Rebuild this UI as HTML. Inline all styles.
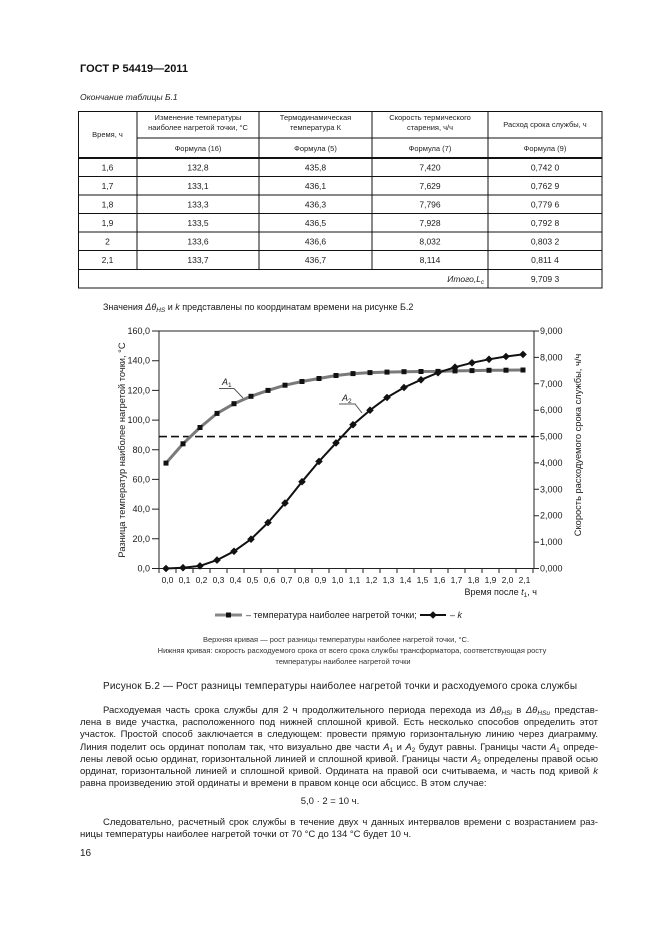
<!DOCTYPE html>
<html><head><meta charset="utf-8">
<style>
html,body{margin:0;padding:0;background:#fff;}
body{width:661px;height:936px;position:relative;overflow:hidden;font-family:"Liberation Sans","DejaVu Sans",sans-serif;color:#1a1a1a;}
svg{position:absolute;left:0;top:0;}
.p{position:absolute;left:80px;width:518px;font-size:9.5px;line-height:12px;white-space:nowrap;text-align:justify;text-align-last:justify;}
.p.last{text-align-last:left;}
.i{font-style:italic;}
sub{font-size:6.5px;vertical-align:-2px;line-height:0;}
</style></head><body>
<svg width="661" height="936" viewBox="0 0 661 936" font-family="Liberation Sans, DejaVu Sans, sans-serif">
<!-- header -->
<text x="80" y="72" font-size="11" font-weight="bold" fill="#111">ГОСТ Р 54419—2011</text>
<text x="80" y="100" font-size="8.5" font-style="italic" fill="#222">Окончание таблицы Б.1</text>

<!-- table lines -->
<g stroke="#111" stroke-width="1" fill="none">
<rect x="78.5" y="111.5" width="523.5" height="176.5"/>
<line x1="137" y1="111" x2="137" y2="269.5"/>
<line x1="259" y1="111" x2="259" y2="269.5"/>
<line x1="372" y1="111" x2="372" y2="269.5"/>
<line x1="488" y1="111" x2="488" y2="288"/>
<line x1="137" y1="138" x2="602" y2="138"/>
<line x1="78" y1="158" x2="602" y2="158" stroke-width="2"/>
<line x1="78" y1="176.5" x2="602" y2="176.5"/>
<line x1="78" y1="195" x2="602" y2="195"/>
<line x1="78" y1="213.5" x2="602" y2="213.5"/>
<line x1="78" y1="232" x2="602" y2="232"/>
<line x1="78" y1="250.5" x2="602" y2="250.5"/>
<line x1="78" y1="269.5" x2="602" y2="269.5"/>
</g>
<g font-size="7.5" fill="#222" text-anchor="middle">
<text x="107.5" y="137">Время, ч</text>
<text x="198" y="120">Изменение температуры</text>
<text x="198" y="130">наиболее нагретой точки, °С</text>
<text x="315.5" y="120">Термодинамическая</text>
<text x="315.5" y="130">температура  К</text>
<text x="430" y="120">Скорость термического</text>
<text x="430" y="130">старения, ч/ч</text>
<text x="545" y="127">Расход срока службы, ч</text>
<text x="198" y="151">Формула (16)</text>
<text x="315.5" y="151">Формула (5)</text>
<text x="430" y="151">Формула (7)</text>
<text x="545" y="151">Формула (9)</text>
</g>
<g font-size="8.5" fill="#1a1a1a" text-anchor="middle">
<text x="107.5" y="170.5">1,6</text><text x="198" y="170.5">132,8</text><text x="315.5" y="170.5">435,8</text><text x="430" y="170.5">7,420</text><text x="545" y="170.5">0,742 0</text>
<text x="107.5" y="189">1,7</text><text x="198" y="189">133,1</text><text x="315.5" y="189">436,1</text><text x="430" y="189">7,629</text><text x="545" y="189">0,762 9</text>
<text x="107.5" y="207.5">1,8</text><text x="198" y="207.5">133,3</text><text x="315.5" y="207.5">436,3</text><text x="430" y="207.5">7,796</text><text x="545" y="207.5">0,779 6</text>
<text x="107.5" y="226">1,9</text><text x="198" y="226">133,5</text><text x="315.5" y="226">436,5</text><text x="430" y="226">7,928</text><text x="545" y="226">0,792 8</text>
<text x="107.5" y="244.5">2</text><text x="198" y="244.5">133,6</text><text x="315.5" y="244.5">436,6</text><text x="430" y="244.5">8,032</text><text x="545" y="244.5">0,803 2</text>
<text x="107.5" y="263">2,1</text><text x="198" y="263">133,7</text><text x="315.5" y="263">436,7</text><text x="430" y="263">8,114</text><text x="545" y="263">0,811 4</text>
<text x="545" y="282">9,709 3</text>
</g>
<text x="484" y="282" font-size="8.5" font-style="italic" fill="#1a1a1a" text-anchor="end">Итого,L<tspan font-size="6" dy="2">c</tspan></text>

<text x="103" y="310" font-size="9" fill="#1a1a1a">Значения <tspan font-style="italic">Δθ</tspan><tspan font-size="6.5" font-style="italic" dy="2">HS</tspan><tspan dy="-2"> и </tspan><tspan font-style="italic">k</tspan> представлены по координатам времени на рисунке Б.2</text>

<!-- chart frame -->
<g stroke="#222" stroke-width="1" fill="none">
<line x1="159" y1="331" x2="534" y2="331"/>
<line x1="159" y1="331" x2="159" y2="569"/>
<line x1="534" y1="331" x2="534" y2="569"/>
<line x1="159" y1="568.5" x2="534" y2="568.5"/>
<path d="M152 568.5H159M152 538.8H159M152 509.1H159M152 479.4H159M152 449.75H159M152 420.1H159M152 390.4H159M152 360.7H159M152 331H159"/>
<path d="M534 568.5H539M534 542.1H539M534 515.7H539M534 489.3H539M534 462.9H539M534 436.6H539M534 410.2H539M534 383.8H539M534 357.4H539M534 331H539"/>
<path d="M159 568.5V573M176 568.5V573M193 568.5V573M210 568.5V573M227 568.5V573M244 568.5V573M261 568.5V573M278 568.5V573M295 568.5V573M312 568.5V573M329 568.5V573M346 568.5V573M363 568.5V573M380 568.5V573M397 568.5V573M414 568.5V573M431 568.5V573M448 568.5V573M465 568.5V573M482 568.5V573M499 568.5V573M516 568.5V573M533 568.5V573"/>
</g>
<g font-size="9" fill="#1a1a1a" text-anchor="end">
<text x="150" y="571.5">0,0</text>
<text x="150" y="541.8">20,0</text>
<text x="150" y="512.1">40,0</text>
<text x="150" y="482.4">60,0</text>
<text x="150" y="452.8">80,0</text>
<text x="150" y="423.1">100,0</text>
<text x="150" y="393.4">120,0</text>
<text x="150" y="363.7">140,0</text>
<text x="150" y="334">160,0</text>
</g>
<g font-size="9" fill="#1a1a1a">
<text x="540" y="571.5">0,000</text>
<text x="540" y="545.1">1,000</text>
<text x="540" y="518.7">2,000</text>
<text x="540" y="492.3">3,000</text>
<text x="540" y="465.9">4,000</text>
<text x="540" y="439.6">5,000</text>
<text x="540" y="413.2">6,000</text>
<text x="540" y="386.8">7,000</text>
<text x="540" y="360.4">8,000</text>
<text x="540" y="334">9,000</text>
</g>
<g font-size="8.5" fill="#1a1a1a" text-anchor="middle">
<text x="167.5" y="583">0,0</text><text x="184.5" y="583">0,1</text><text x="201.5" y="583">0,2</text><text x="218.5" y="583">0,3</text><text x="235.5" y="583">0,4</text><text x="252.5" y="583">0,5</text><text x="269.5" y="583">0,6</text><text x="286.5" y="583">0,7</text><text x="303.5" y="583">0,8</text><text x="320.5" y="583">0,9</text><text x="337.5" y="583">1,0</text><text x="354.5" y="583">1,1</text><text x="371.5" y="583">1,2</text><text x="388.5" y="583">1,3</text><text x="405.5" y="583">1,4</text><text x="422.5" y="583">1,5</text><text x="439.5" y="583">1,6</text><text x="456.5" y="583">1,7</text><text x="473.5" y="583">1,8</text><text x="490.5" y="583">1,9</text><text x="507.5" y="583">2,0</text><text x="524.5" y="583">2,1</text>
</g>
<text x="537" y="595" font-size="9" fill="#1a1a1a" text-anchor="end">Время после <tspan font-style="italic">t</tspan><tspan font-size="6.5" dy="2">1</tspan><tspan dy="-2">, ч</tspan></text>
<text transform="translate(125,450) rotate(-90)" font-size="9.3" fill="#1a1a1a" text-anchor="middle">Разница температур наиболее нагретой точки, °С</text>
<text transform="translate(581,445) rotate(-90)" font-size="9.3" fill="#1a1a1a" text-anchor="middle">Скорость расходуемого срока службы, ч/ч</text>

<!-- dashed -->
<line x1="159" y1="436.6" x2="534" y2="436.6" stroke="#111" stroke-width="1.6" stroke-dasharray="8,4"/>

<!-- temperature curve -->
<polyline fill="none" stroke="#7a7a7a" stroke-width="3" stroke-linejoin="round" points="166,463.1 183,443.8 200,427.5 217,413.4 234,403.7 251,396.3 268,390.4 285,385.2 302,381.5 319,378.5 336,375.5 353,373.6 370,372.6 387,372.1 404,371.7 421,371.5 438,371.4 455,370.9 472,370.6 489,370.3 506,370.2 523,370.0"/>
<g fill="#111">
<rect x="163.5" y="460.6" width="5" height="5"/><rect x="180.5" y="441.3" width="5" height="5"/><rect x="197.5" y="425" width="5" height="5"/><rect x="214.5" y="410.9" width="5" height="5"/><rect x="231.5" y="401.2" width="5" height="5"/><rect x="248.5" y="393.8" width="5" height="5"/><rect x="265.5" y="387.9" width="5" height="5"/><rect x="282.5" y="382.7" width="5" height="5"/><rect x="299.5" y="379" width="5" height="5"/><rect x="316.5" y="376" width="5" height="5"/><rect x="333.5" y="373" width="5" height="5"/><rect x="350.5" y="371.1" width="5" height="5"/><rect x="367.5" y="370.1" width="5" height="5"/><rect x="384.5" y="369.6" width="5" height="5"/><rect x="401.5" y="369.2" width="5" height="5"/><rect x="418.5" y="369" width="5" height="5"/><rect x="435.5" y="368.9" width="5" height="5"/><rect x="452.5" y="368.4" width="5" height="5"/><rect x="469.5" y="368.1" width="5" height="5"/><rect x="486.5" y="367.8" width="5" height="5"/><rect x="503.5" y="367.7" width="5" height="5"/><rect x="520.5" y="367.5" width="5" height="5"/>
</g>

<!-- k curve -->
<polyline fill="none" stroke="#111" stroke-width="2" stroke-linejoin="round" points="166,568.5 183,567.7 200,565.9 217,560.1 234,551.3 251,539.2 268,522.6 285,503.1 302,481.7 319,461.4 336,442.9 353,424.7 370,410.2 387,397.5 404,387.5 421,379.8 438,372.7 455,367.2 472,362.8 489,359.3 506,356.5 523,354.4"/>
<g fill="#111">
<path d="M166 564.7L169.8 568.5L166 572.3L162.2 568.5Z"/>
<path d="M183 563.9L186.8 567.7L183 571.5L179.2 567.7Z"/>
<path d="M200 562.1L203.8 565.9L200 569.7L196.2 565.9Z"/>
<path d="M217 556.3L220.8 560.1L217 563.9L213.2 560.1Z"/>
<path d="M234 547.5L237.8 551.3L234 555.1L230.2 551.3Z"/>
<path d="M251 535.4L254.8 539.2L251 543L247.2 539.2Z"/>
<path d="M268 518.8L271.8 522.6L268 526.4L264.2 522.6Z"/>
<path d="M285 499.3L288.8 503.1L285 506.9L281.2 503.1Z"/>
<path d="M302 477.9L305.8 481.7L302 485.5L298.2 481.7Z"/>
<path d="M319 457.6L322.8 461.4L319 465.2L315.2 461.4Z"/>
<path d="M336 439.1L339.8 442.9L336 446.7L332.2 442.9Z"/>
<path d="M353 420.9L356.8 424.7L353 428.5L349.2 424.7Z"/>
<path d="M370 406.4L373.8 410.2L370 414L366.2 410.2Z"/>
<path d="M387 393.7L390.8 397.5L387 401.3L383.2 397.5Z"/>
<path d="M404 383.7L407.8 387.5L404 391.3L400.2 387.5Z"/>
<path d="M421 376L424.8 379.8L421 383.6L417.2 379.8Z"/>
<path d="M438 368.9L441.8 372.7L438 376.5L434.2 372.7Z"/>
<path d="M455 363.4L458.8 367.2L455 371L451.2 367.2Z"/>
<path d="M472 359L475.8 362.8L472 366.6L468.2 362.8Z"/>
<path d="M489 355.5L492.8 359.3L489 363.1L485.2 359.3Z"/>
<path d="M506 352.7L509.8 356.5L506 360.3L502.2 356.5Z"/>
<path d="M523 350.6L526.8 354.4L523 358.2L519.2 354.4Z"/>
</g>

<!-- A1, A2 labels -->
<text x="222" y="385" font-size="9" font-style="italic" fill="#1a1a1a">A<tspan font-size="6.5" dy="2" font-style="normal">1</tspan></text>
<polyline fill="none" stroke="#555" stroke-width="1" points="219,388.5 234,388.5 243,398"/>
<text x="342" y="401" font-size="9" font-style="italic" fill="#1a1a1a">A<tspan font-size="6.5" dy="2" font-style="normal">2</tspan></text>
<polyline fill="none" stroke="#555" stroke-width="1" points="339,404 355,404 362,413"/>

<!-- legend -->
<line x1="215" y1="615" x2="242" y2="615" stroke="#888" stroke-width="3"/>
<rect x="226" y="612.5" width="5" height="5" fill="#111"/>
<text x="246" y="618" font-size="9" fill="#1a1a1a">– температура наиболее нагретой точки;</text>
<line x1="420" y1="615" x2="446" y2="615" stroke="#111" stroke-width="2"/>
<path d="M433 611.2L436.8 615L433 618.8L429.2 615Z" fill="#111"/>
<text x="450" y="618" font-size="9" fill="#1a1a1a">– <tspan font-style="italic">k</tspan></text>

<!-- captions -->
<g font-size="7.5" fill="#333" text-anchor="middle">
<text x="336" y="642">Верхняя кривая —  рост разницы температуры наиболее нагретой точки, °С.</text>
<text x="352" y="653">Нижняя кривая: скорость расходуемого срока от всего срока службы трансформатора, соответствующая росту</text>
<text x="343" y="664">температуры наиболее нагретой точки</text>
</g>
<text x="340" y="689" font-size="10" fill="#1a1a1a" text-anchor="middle" textLength="474" lengthAdjust="spacing">Рисунок Б.2 — Рост разницы температуры наиболее нагретой точки и расходуемого срока службы</text>
<text x="330" y="804" font-size="9.5" fill="#1a1a1a" text-anchor="middle">5,0 · 2 = 10 ч.</text>
<text x="80" y="856" font-size="10" fill="#1a1a1a">16</text>
</svg>

<div class="p" style="top:705px;"><span style="display:inline-block;width:23px"></span>Расходуемая часть срока службы для 2 ч продолжительного периода перехода из <span class="i">Δθ<sub>HSi</sub></span> в <span class="i">Δθ<sub>HSu</sub></span> представ-</div>
<div class="p" style="top:717px;">лена в виде участка, расположенного под нижней сплошной кривой. Есть несколько способов определить этот</div>
<div class="p" style="top:729px;">участок. Простой способ заключается в следующем: провести прямую горизонтальную линию через диаграмму.</div>
<div class="p" style="top:741.5px;">Линия поделит ось ординат пополам так, что визуально две части <span class="i">A</span><sub>1</sub> и <span class="i">A</span><sub>2</sub> будут равны. Границы части <span class="i">A</span><sub>1</sub> опреде-</div>
<div class="p" style="top:754px;">лены левой осью ординат, горизонтальной линией и сплошной кривой. Границы части <span class="i">A</span><sub>2</sub> определены правой осью</div>
<div class="p" style="top:766px;">ординат, горизонтальной линией и сплошной кривой. Ордината на правой оси считываема, и часть под кривой <span class="i">k</span></div>
<div class="p last" style="top:778px;">равна произведению этой ординаты и времени в правом конце оси абсцисс. В этом случае:</div>
<div class="p" style="top:817px;"><span style="display:inline-block;width:23px"></span>Следовательно, расчетный срок службы в течение двух ч данных интервалов времени с возрастанием раз-</div>
<div class="p last" style="top:829px;">ницы температуры наиболее нагретой точки от 70 °С до 134 °С будет 10 ч.</div>
</body></html>
